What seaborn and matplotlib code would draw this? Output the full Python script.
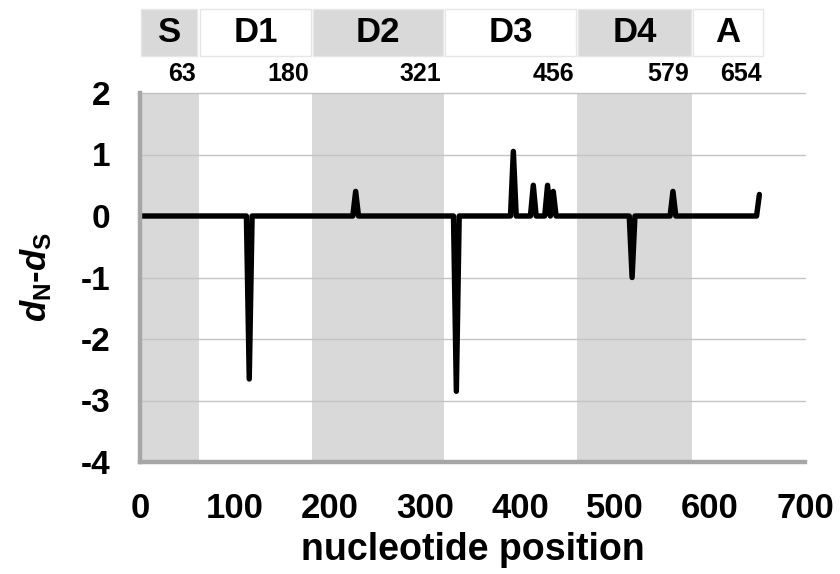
import numpy as np
import pandas as pd
import matplotlib
matplotlib.use('Agg')
import matplotlib.pyplot as plt
import matplotlib.transforms as mtransforms
from matplotlib.patches import Rectangle
import seaborn as sns

# domains and their end positions
domains = ['S', 'D1', 'D2', 'D3', 'D4', 'A']
domain_ends = [63, 180, 321, 456, 579, 654]
# edges of the shaded boxes as drawn in the figure
domain_edges = [0, 62, 181, 320, 460, 581, 657]
shaded = [True, False, True, False, True, False]

# dN-dS along the sequence (0 except at a few codons)
positions = [0, 112, 115, 118, 224, 227, 230, 330, 333, 336,
             390, 393, 396, 411, 414, 417, 426, 429, 432, 435, 438,
             515, 518, 521, 558, 561, 564, 649, 652]
dnds = [0, 0, -2.65, 0, 0, 0.40, 0, 0, -2.85, 0,
        0, 1.05, 0, 0, 0.50, 0, 0, 0.50, 0, 0.40, 0,
        0, -1.0, 0, 0, 0.40, 0, 0, 0.35]

df = pd.DataFrame({'position': positions, 'dnds': dnds})

sns.set_theme(style='white')
plt.rcParams['font.family'] = ['Liberation Sans', 'DejaVu Sans']
plt.rcParams['font.weight'] = 'bold'
plt.rcParams['text.color'] = 'black'
plt.rcParams['axes.labelcolor'] = 'black'
plt.rcParams['axes.unicode_minus'] = False
plt.rcParams['mathtext.fontset'] = 'custom'
plt.rcParams['mathtext.it'] = 'Liberation Sans:bold:italic'
plt.rcParams['mathtext.rm'] = 'Liberation Sans:bold'
plt.rcParams['mathtext.bf'] = 'Liberation Sans:bold'

fig = plt.figure(figsize=(8.4, 5.74), dpi=100)
ax = fig.add_axes([140 / 840, 112 / 574, 665 / 840, 369 / 574])

band_grey = '#d9d9d9'
axis_grey = '#a6a6a6'

# shaded domain bands
for i, sh in enumerate(shaded):
    if sh:
        ax.axvspan(domain_edges[i], domain_edges[i + 1], color=band_grey, lw=0, zorder=0)

# horizontal gridlines
for yv in [-3, -2, -1, 1, 2]:
    ax.plot([0, 700], [yv, yv], color='#c4c4c4', lw=1.0, zorder=1, clip_on=False)

sns.lineplot(data=df, x='position', y='dnds', ax=ax, color='black', lw=3.9,
             sort=False, estimator=None, zorder=3)
ax.lines[-1].set_solid_capstyle('round')
ax.lines[-1].set_solid_joinstyle('round')

ax.set_xlim(0, 700)
ax.set_ylim(-4, 2)
ax.set_xticks(range(0, 701, 100))
ax.set_yticks(range(-4, 3))
ax.tick_params(axis='x', direction='inout', length=15, width=3, color=axis_grey,
               labelcolor='black', labelsize=25, pad=14)
ax.tick_params(axis='y', direction='inout', length=17, width=3, color=axis_grey,
               labelcolor='black', labelsize=24, pad=13)
for lab in ax.get_xticklabels() + ax.get_yticklabels():
    lab.set_fontweight('bold')

for s in ['top', 'right']:
    ax.spines[s].set_visible(False)
for s in ['left', 'bottom']:
    ax.spines[s].set_color(axis_grey)
    ax.spines[s].set_linewidth(3.2)
    ax.spines[s].set_zorder(4)

ax.set_xlabel('nucleotide position', fontsize=27, fontweight='bold', labelpad=5)
ax.set_ylabel(r'$d_{\mathrm{N}}$-$d_{\mathrm{S}}$', fontsize=25, fontweight='bold')
ax.yaxis.set_label_coords(-0.13, 0.5)

# header with domain names
trans = mtransforms.blended_transform_factory(ax.transData, ax.transAxes)
box_bottom, box_top = (462 - 56) / 369, (462 - 9) / 369
for i, name in enumerate(domains):
    x0, x1 = domain_edges[i] + 1.5, domain_edges[i + 1] - 1.5
    ax.add_patch(Rectangle((x0, box_bottom), x1 - x0, box_top - box_bottom,
                           transform=trans, clip_on=False,
                           facecolor=band_grey if shaded[i] else 'white',
                           edgecolor='#e6e6e6', lw=1))
    ax.text((x0 + x1) / 2, (box_bottom + box_top) / 2, name, transform=trans,
            ha='center', va='center', fontsize=25, fontweight='bold', clip_on=False)
    ax.text(domain_edges[i + 1] - 3, (462 - 74) / 369, str(domain_ends[i]),
            transform=trans, ha='right', va='center', fontsize=18,
            fontweight='bold', clip_on=False)

fig.savefig('out.png', dpi=100)
